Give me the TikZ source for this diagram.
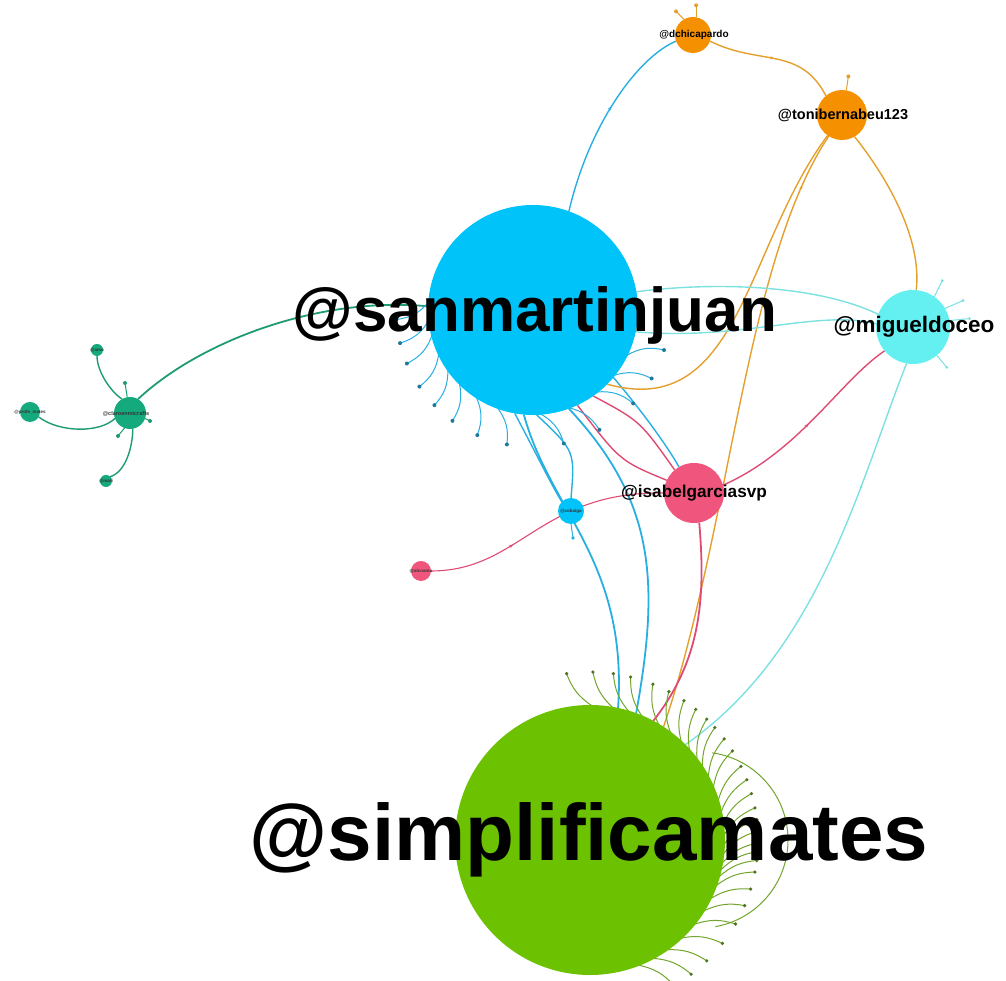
\documentclass[tikz,border=0pt]{standalone}
\usepackage{fontspec}
\setmainfont{Liberation Sans}
\usetikzlibrary{calc,arrows.meta,decorations.markings}
\pgfdeclarelayer{bg}\pgfdeclarelayer{fg}\pgfsetlayers{bg,main,fg}
\definecolor{cS}{RGB}{0,195,250}
\definecolor{eS}{RGB}{40,175,225}
\definecolor{cG}{RGB}{108,194,0}
\definecolor{eG}{RGB}{115,165,45}
\definecolor{cM}{RGB}{100,240,240}
\definecolor{eM}{RGB}{125,225,225}
\definecolor{cI}{RGB}{240,85,125}
\definecolor{eI}{RGB}{222,75,115}
\definecolor{cT}{RGB}{245,145,0}
\definecolor{eT}{RGB}{228,160,45}
\definecolor{cK}{RGB}{20,170,125}
\definecolor{eK}{RGB}{30,155,115}
\begin{document}
\begin{tikzpicture}[x=1pt,y=1pt,
  hub/.style={circle,draw=none,inner sep=0pt,outer sep=0pt},
  lab/.style={inner sep=0pt,text=black,font=\bfseries},
  tiny/.style={inner sep=0pt,text=black!80,font=\bfseries\fontsize{4.5}{5}\selectfont},
  edge/.style={line width=1.4pt},
  midtip/.style={postaction={decorate,decoration={markings,mark=at position #1 with {\arrow{Stealth[length=4pt,width=3.5pt]}}}}},
  midtip/.default=0.5,
  stubline/.style={line width=1pt}]
\useasboundingbox (0,0) rectangle (1006,981);
% nodes
\node[hub,fill=cS,minimum size=210pt] (S) at (533,671) {};
\node[hub,fill=cG,minimum size=270pt] (G) at (590,141) {};
\node[hub,fill=cM,minimum size=74pt] (M) at (913,654) {};
\node[hub,fill=cI,minimum size=60pt] (I) at (694,488) {};
\node[hub,fill=cT,minimum size=50pt] (T) at (842,866) {};
\node[hub,fill=cT,minimum size=36pt] (D) at (693,946) {};
\node[hub,fill=cS,minimum size=26pt] (C) at (571,470) {};
\node[hub,fill=cI,minimum size=20pt] (P) at (421,410) {};
\node[hub,fill=cK,minimum size=32pt] (K) at (130,568) {};
\node[hub,fill=cK,minimum size=20pt] (L) at (30,569) {};
\node[hub,fill=cK,minimum size=12pt] (U) at (97,631) {};
\node[hub,fill=cK,minimum size=12pt] (B) at (106,500) {};
\coordinate (kt1) at (125,598);
\coordinate (kt2) at (118,545);
\coordinate (kt3) at (150,560);
\begin{pgfonlayer}{bg}
% teal
\draw[edge,eK,line width=1.8pt] (K.60) .. controls (200,640) and (320,685) .. (S.178);
\draw[edge,eK] (K.200) .. controls (100,548) and (60,548) .. (L.-30);
\draw[edge,eK] (K.120) .. controls (110,590) and (97,610) .. (U.south);
\draw[edge,eK] (K.-80) .. controls (133,540) and (128,510) .. (B.north east);
\draw[stubline,eK] (K.100) -- (kt1); \fill[eK] (kt1) circle (2);
\draw[stubline,eK] (K.-110) -- (kt2); \fill[eK] (kt2) circle (2);
\draw[stubline,eK] (K.-20) -- (kt3); \fill[eK] (kt3) circle (2);
% cyan from S
\draw[edge,eS,midtip=0.55] (S.70) .. controls (590,860) and (640,925) .. (D.200);
\draw[edge,eS,line width=1.8pt] (S.-95) .. controls (550,470) and (628,420) .. (G.78);
\draw[edge,eS,line width=1.8pt] (S.-70) .. controls (655,480) and (660,400) .. (G.70);
\draw[edge,eS] (S.-100) .. controls (540,520) and (552,495) .. (C.north west);
\draw[edge,eS] (S.-88) .. controls (575,530) .. (C.north);
\draw[edge,eS] (S.-40) .. controls (650,560) and (670,530) .. (I.120);
\draw[stubline,eS] (C.south) -- ++(2,-14) coordinate (ct); \fill[eS] (ct) circle (1.8);
% orange
\draw[edge,eT,midtip] (D.-20) .. controls (760,915) and (800,935) .. (T.130);
\draw[edge,eT] (T.-60) .. controls (890,800) and (922,740) .. (M.85);
\draw[edge,eT] (T.-125) .. controls (745,735) and (740,560) .. (S.-45);
\draw[edge,eT,midtip=0.1] (T.-122) .. controls (745,720) and (730,450) .. (G.57);
\draw[stubline,eT] (D.120) -- ++(-8,8) coordinate (dt1); \fill[eT] (dt1) circle (2);
\draw[stubline,eT] (D.80) -- ++(0,12) coordinate (dt2); \fill[eT] (dt2) circle (2);
\draw[stubline,eT] (T.80) -- ++(2,14) coordinate (tt1); \fill[eT] (tt1) circle (2);
% pink
\draw[edge,eI] (S.-55) .. controls (640,560) .. (I.130);
\draw[edge,eI] (S.-65) .. controls (620,520) .. (I.155);
\draw[edge,eI,midtip] (I.15) .. controls (800,530) and (840,600) .. (M.-140);
\draw[edge,eI,line width=1.1pt,midtip=0.35] (P.east) .. controls (520,410) and (540,490) .. (I.180);
\draw[edge,eI,line width=1.8pt] (I.-80) .. controls (706,380) and (700,320) .. (G.62);
% light cyan
\draw[edge,eM,midtip=0.3] (M.-100) .. controls (860,500) and (820,330) .. (G.45);
\draw[edge,eM] (S.10) .. controls (720,700) and (820,695) .. (M.160);
\draw[edge,eM] (S.-12) .. controls (740,640) and (820,672) .. (M.175);
\draw[stubline,eM] (M.30) -- ++(18,8) coordinate (mt1); \fill[eM] (mt1) circle (1.6);
\draw[stubline,eM] (M.10) -- ++(20,2) coordinate (mt2); \fill[eM] (mt2) circle (1.6);
\draw[stubline,eM] (M.55) -- ++(8,16) coordinate (mt3); \fill[eM] (mt3) circle (1.6);
\draw[stubline,eM] (M.-50) -- ++(10,-12) coordinate (mt4); \fill[eM] (mt4) circle (1.6);
% stubs of S
\foreach \a in {-176,-166,-157,-146,-136,-126,-114,-101,-77,-61,-43,-30,-17}{
  \draw[stubline,eS] ($(S.center)+(\a-9:104)$) to[bend left=22] ($(S.center)+(\a:137)$);
  \fill[eS!70!black] ($(S.center)+(\a:137)$) circle (2);
}
% stubs of G
\foreach \a in {98,89,82,76,68,62,56,51,46,42,37,32,26,21,16,11,7,3,-1,-4,-7,-11,-17,-23,-30,-38,-46,-53,-60}{
  \draw[stubline,eG] ($(G.center)+(\a-9:134)$) to[bend left=18] ($(G.center)+(\a:168)$);
  \fill[eG!70!black] ($(G.center)+(\a:168)$) circle (1.8);
}
\draw[stubline,eG] (700,141) ++(82:88) arc[start angle=82,end angle=-80,radius=88];
\end{pgfonlayer}
% labels
\begin{pgfonlayer}{fg}
\node[lab,font=\bfseries\fontsize{62}{62}\selectfont] (lS) at (535,666) {@sanmartinjuan};
\node[lab,font=\bfseries\fontsize{80}{80}\selectfont] (lG) at (589,141) {@simplificamates};
\node[lab,font=\bfseries\fontsize{22.5}{23}\selectfont] (lM) at (914,654) {@migueldoceo};
\node[lab,font=\bfseries\fontsize{17.2}{18}\selectfont] (lI) at (694,488) {@isabelgarciasvp};
\node[lab,font=\bfseries\fontsize{14.5}{15}\selectfont] (lT) at (843,866) {@tonibernabeu123};
\node[lab,font=\bfseries\fontsize{10}{11}\selectfont] (lD) at (694,946) {@dchicapardo};
\node[tiny] (lC) at (571,470) {@cobaiga};
\node[tiny] (lP) at (421,410) {@alcnamu};
\node[tiny,font=\bfseries\fontsize{5.5}{6}\selectfont] (lK) at (126,567) {@claroenmicrafts};
\node[tiny] (lL) at (30,569) {@profe\_mates};
\node[tiny] (lU) at (97,631) {@amo};
\node[tiny] (lB) at (106,500) {@mari};
\end{pgfonlayer}
\end{tikzpicture}
\end{document}
